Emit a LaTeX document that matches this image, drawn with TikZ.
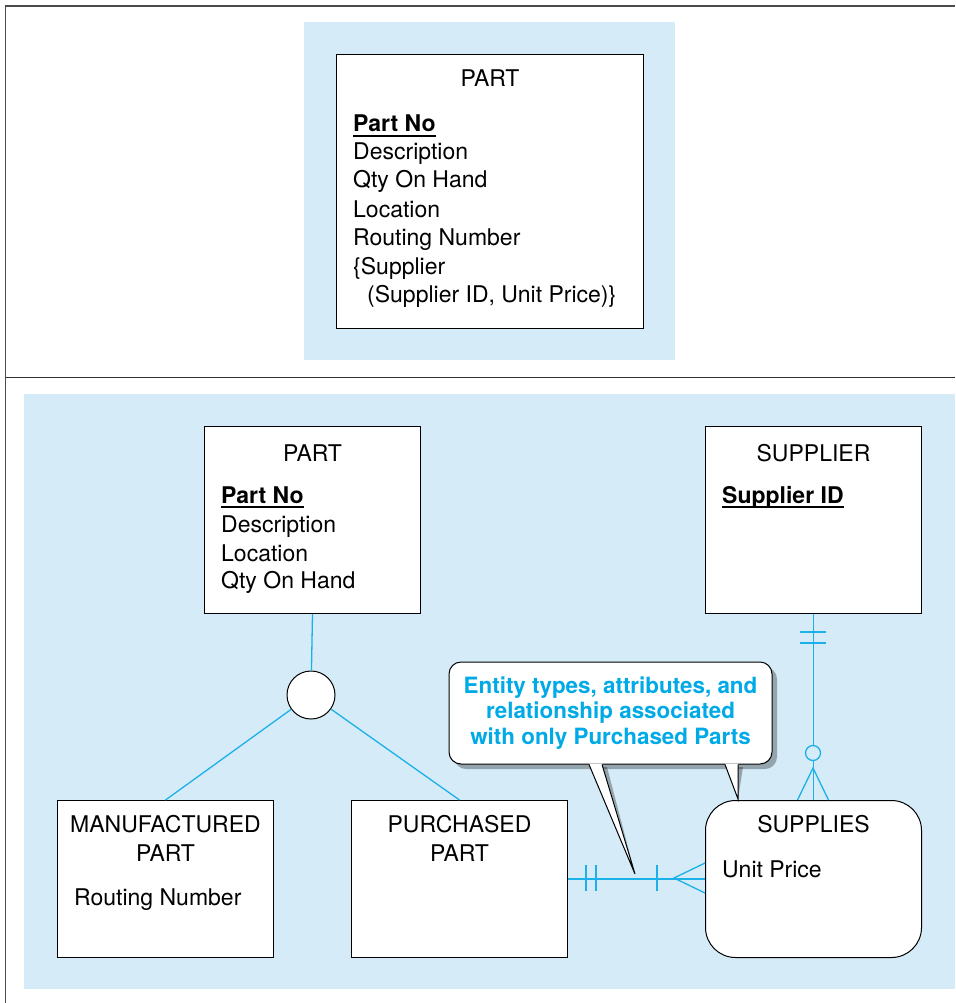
\documentclass[tikz,border=0pt]{standalone}
\usepackage{fontspec}
\setmainfont{TeX Gyre Heros}
\usetikzlibrary{positioning,shadows}
\definecolor{panelblue}{RGB}{213,236,248}
\definecolor{linkblue}{RGB}{28,176,232}
\definecolor{noteblue}{RGB}{0,170,230}
\tikzset{
  every node/.style={font=\fontsize{23}{28.5}\selectfont},
  entbox/.style={draw, fill=white, line width=1pt, anchor=north west, inner sep=0},
  lbl/.style={anchor=base west, inner sep=0},
  ttl/.style={anchor=base, inner sep=0},
  link/.style={draw=linkblue, line width=1.3pt}
}
\begin{document}
\begin{tikzpicture}[x=1pt,y=-1pt]
    \useasboundingbox (0,0) rectangle (955,1003);
    \draw[line width=1.5pt, black!70] (955,6) -- (5.5,6) -- (5.5,1003);
    \draw[line width=1.5pt, black!80] (5.5,377.5) -- (955,377.5);
    \fill[panelblue] (304,22) rectangle (675,360);
    \fill[panelblue] (24,394) rectangle (955,989);
    % upper panel
    \node[entbox, minimum width=307, minimum height=274] (part1) at (336,54) {};
    \node[ttl] (part1t) at (part1.north |- 0,87) {PART};
    \node[lbl] (part1k) at (353,132) {\textbf{Part No}};
    \draw[line width=1.3pt] ([yshift=-4pt]part1k.base west) -- ([yshift=-4pt]part1k.base east);
    \foreach \y/\s [count=\k] in {160/Description, 188/Qty On Hand, 217/Location, 245/Routing Number, 274/{\{Supplier}} {
      \node[lbl] (part1a\k) at (353,\y) {\s};
    }
    \node[lbl] (part1s) at (367,302) {(Supplier ID, Unit Price)\}};
    % lower panel
    \node[entbox, minimum width=216, minimum height=187] (part2) at (204,426) {};
    \node[ttl] (part2t) at (part2.north |- 0,461) {PART};
    \node[lbl] (part2k) at (221,503) {\textbf{Part No}};
    \draw[line width=1.3pt] ([yshift=-4pt]part2k.base west) -- ([yshift=-4pt]part2k.base east);
    \foreach \y/\s [count=\k] in {532/Description, 561/Location, 588/Qty On Hand} {
      \node[lbl] (part2a\k) at (221,\y) {\s};
    }
    \node[entbox, minimum width=216, minimum height=187] (supplier) at (705,426) {};
    \node[ttl] (suppliert) at (supplier.north |- 0,461) {SUPPLIER};
    \node[lbl] (supplierk) at (722,503) {\textbf{Supplier ID}};
    \draw[line width=1.3pt] ([yshift=-4pt]supplierk.base west) -- ([yshift=-4pt]supplierk.base east);
    \node[entbox, minimum width=216, minimum height=157] (mfg) at (57,800) {};
    \node[ttl] (mfgt1) at (mfg.north |- 0,832) {MANUFACTURED};
    \node[ttl] (mfgt2) at (mfg.north |- 0,861) {PART};
    \node[lbl] (mfga) at (74,905) {Routing Number};
    \node[entbox, minimum width=216, minimum height=157] (purch) at (351,800) {};
    \node[ttl] (purcht1) at (purch.north |- 0,832) {PURCHASED};
    \node[ttl] (purcht2) at (purch.north |- 0,861) {PART};
    \node[entbox, rounded corners=30, minimum width=216, minimum height=157] (supplies) at (705,800) {};
    \node[ttl] (suppliest) at (supplies.north |- 0,832) {SUPPLIES};
    \node[lbl] (suppliesa) at (722,877) {Unit Price};
    \node[draw, circle, fill=white, line width=1pt, minimum size=48, inner sep=0] (isa) at (311,695) {};
    \draw[link] (part2.south) -- (isa);
    \draw[link] (isa) -- (mfg.north);
    \draw[link] (isa) -- (purch.north);
    % supplier -- supplies
    \draw[link] (supplier.south) -- (supplies.north);
    \foreach \y in {632,643} {
      \draw[link] (800,\y) -- (826,\y);
    }
    \draw[link, fill=panelblue] (813,753) circle (7.5);
    \draw[link] (797.5,800) -- (813,768) -- (828.5,800);
    % purchased part -- supplies
    \draw[link] (purch.east) -- (supplies.west |- purch.east);
    \foreach \x in {586,596,657} {
      \draw[link] (\x,865) -- (\x,891);
    }
    \draw[link] (705,863) -- (674,878) -- (705,893);
    % callout
    \coordinate (tip1) at (635,874);
    \coordinate (tip2) at (738,799);
    \fill[black, opacity=.3, shift={(5,5)}] (589,762) -- (tip1) -- (602,762) -- cycle;
    \fill[black, opacity=.3, shift={(5,5)}] (725,762) -- (tip2) -- (738,762) -- cycle;
    \node[draw, fill=white, line width=1pt, rounded corners=12, minimum width=323, minimum height=102,
      align=center, inner sep=0, text=noteblue,
      font=\fontsize{22.4}{25.5}\selectfont\bfseries,
      drop shadow={shadow xshift=5pt, shadow yshift=-5pt, fill=black, opacity=.3}]
      (note) at (610.5,713) {Entity types, attributes, and\\relationship associated\\with only Purchased Parts};
    \fill[white] ([xshift=-21.5pt,yshift=1pt]note.south) -- (tip1) -- ([xshift=-8.5pt,yshift=1pt]note.south) -- cycle;
    \draw[line width=1pt] ([xshift=-21.5pt]note.south) -- (tip1) -- ([xshift=-8.5pt]note.south);
    \fill[white] ([xshift=114.5pt,yshift=1pt]note.south) -- (tip2) -- ([xshift=127.5pt,yshift=1pt]note.south) -- cycle;
    \draw[line width=1pt] ([xshift=114.5pt]note.south) -- (tip2) -- ([xshift=127.5pt]note.south);
\end{tikzpicture}
\end{document}
